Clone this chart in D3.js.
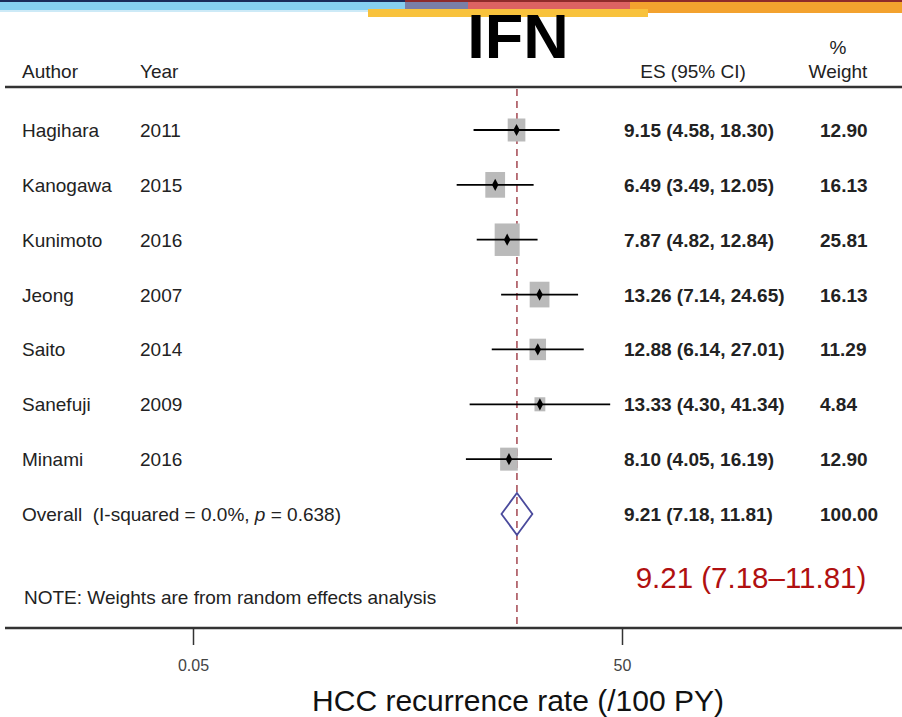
<!DOCTYPE html>
<html>
<head>
<meta charset="utf-8">
<script src="https://cdn.jsdelivr.net/npm/d3@7"></script>
<style>
  body { margin: 0; background: #fff; }
  svg text { font-family: "Liberation Sans", Arial, sans-serif; }
</style>
</head>
<body>
<div id="chart"></div>
<script>
/* study rows */
const authors = ["Hagihara", "Kanogawa", "Kunimoto", "Jeong", "Saito", "Sanefuji", "Minami"];
const years = ["2011", "2015", "2016", "2007", "2014", "2009", "2016"];
const es = [9.15, 6.49, 7.87, 13.26, 12.88, 13.33, 8.10];
const lower = [4.58, 3.49, 4.82, 7.14, 6.14, 4.30, 4.05];
const upper = [18.30, 12.05, 12.84, 24.65, 27.01, 41.34, 16.19];
const weights = [12.90, 16.13, 25.81, 16.13, 11.29, 4.84, 12.90];

/* pooled estimate */
const overallEs = 9.21;
const overallLower = 7.18;
const overallUpper = 11.81;
const overallWeight = 100.00;
const iSquared = "0.0%";
const pValue = "0.638";

/* axis */
const tickValues = [0.05, 50];
const axisTitle = "HCC recurrence rate (/100 PY)";
const chartTitle = "IFN";

const width = 902, height = 717;

const svg = d3.select("#chart").append("svg")
    .attr("width", width)
    .attr("height", height)
    .attr("viewBox", `0 0 ${width} ${height}`);

/* decorative header bands */
const bands = [
    {x0: 0, x1: 405, y: 0, h: 2, c: "#1b2a5a"},
    {x0: 405, x1: 902, y: 0, h: 2, c: "#8e2a2a"},
    {x0: 0, x1: 405, y: 2, h: 8, c: "#86cff0"},
    {x0: 0, x1: 405, y: 10, h: 2, c: "#cdeaf7"},
    {x0: 560, x1: 902, y: 2, h: 11, c: "#f3a22e"},
    {x0: 405, x1: 468, y: 2, h: 7, c: "#7a7fa6"},
    {x0: 468, x1: 630, y: 2, h: 7, c: "#dc6262"},
    {x0: 368, x1: 648, y: 9, h: 8, c: "#f8c23c"}
];
svg.append("g").selectAll("rect").data(bands).enter()
    .append("rect")
    .attr("x", d => d.x0)
    .attr("y", d => d.y)
    .attr("width", d => d.x1 - d.x0)
    .attr("height", d => d.h)
    .attr("fill", d => d.c);

/* scales */
const rows = authors.concat(["Overall"]);
const x = d3.scaleLog().domain([0.05, 50]).range([193, 622]);
const y = d3.scalePoint().domain(rows).range([130, 514]);
const boxW = d3.scaleSqrt().domain([0, d3.max(weights)]).range([0, 25]);

const studies = authors.map((a, i) => ({
    author: a, year: years[i], es: es[i], lo: lower[i], hi: upper[i], w: weights[i]
}));

const textCol = "#222";
const fs = 19;

/* title */
svg.append("text")
    .attr("x", 518).attr("y", 58)
    .attr("text-anchor", "middle")
    .attr("font-size", 63)
    .attr("font-weight", "bold")
    .attr("fill", "#000")
    .text(chartTitle);

/* column headers */
const head = svg.append("g").attr("fill", textCol).attr("font-size", fs);
head.append("text").attr("x", 22).attr("y", 78).text("Author");
head.append("text").attr("x", 140).attr("y", 78).text("Year");
head.append("text").attr("x", 693).attr("y", 78).attr("text-anchor", "middle").text("ES (95% CI)");
head.append("text").attr("x", 838).attr("y", 54).attr("text-anchor", "middle").text("%");
head.append("text").attr("x", 838).attr("y", 78).attr("text-anchor", "middle").text("Weight");

svg.append("line")
    .attr("x1", 5).attr("x2", width)
    .attr("y1", 87).attr("y2", 87)
    .attr("stroke", "#333").attr("stroke-width", 2.5);

/* reference line at pooled estimate */
svg.append("line")
    .attr("x1", x(overallEs)).attr("x2", x(overallEs))
    .attr("y1", 89).attr("y2", 627)
    .attr("stroke", "#a9525b")
    .attr("stroke-width", 1.6)
    .attr("stroke-dasharray", "7,5");

/* study rows */
const rowG = svg.append("g").selectAll("g").data(studies).enter()
    .append("g");

rowG.append("rect")
    .attr("x", d => x(d.es) - boxW(d.w) / 2)
    .attr("y", d => y(d.author) - boxW(d.w) * 1.3 / 2)
    .attr("width", d => boxW(d.w))
    .attr("height", d => boxW(d.w) * 1.3)
    .attr("fill", "#bababa");

rowG.append("line")
    .attr("x1", d => x(d.lo))
    .attr("x2", d => x(d.hi))
    .attr("y1", d => y(d.author))
    .attr("y2", d => y(d.author))
    .attr("stroke", "#000")
    .attr("stroke-width", 1.8);

rowG.append("path")
    .attr("d", d3.symbol().type(d3.symbolDiamond).size(30))
    .attr("transform", d => `translate(${x(d.es)},${y(d.author)}) scale(1.1,1.2)`)
    .attr("fill", "#000");

rowG.append("text")
    .attr("x", 22).attr("y", d => y(d.author) + 7)
    .attr("font-size", fs).attr("fill", textCol)
    .text(d => d.author);

rowG.append("text")
    .attr("x", 140).attr("y", d => y(d.author) + 7)
    .attr("font-size", fs).attr("fill", textCol)
    .text(d => d.year);

rowG.append("text")
    .attr("x", 624).attr("y", d => y(d.author) + 7)
    .attr("font-size", fs).attr("font-weight", "bold").attr("fill", textCol)
    .text(d => `${d.es.toFixed(2)} (${d.lo.toFixed(2)}, ${d.hi.toFixed(2)})`);

rowG.append("text")
    .attr("x", 820).attr("y", d => y(d.author) + 7)
    .attr("font-size", fs).attr("font-weight", "bold").attr("fill", textCol)
    .text(d => d.w.toFixed(2));

/* overall row */
const yo = y("Overall");
svg.append("path")
    .attr("d", `M${x(overallLower)},${yo} L${x(overallEs)},${yo - 21} L${x(overallUpper)},${yo} L${x(overallEs)},${yo + 21} Z`)
    .attr("fill", "none")
    .attr("stroke", "#4a4a9c")
    .attr("stroke-width", 1.8);

const ov = svg.append("text")
    .attr("x", 22).attr("y", yo + 7)
    .attr("font-size", fs).attr("fill", textCol)
    .style("white-space", "pre");
ov.append("tspan").text("Overall  (I-squared = " + iSquared + ", ");
ov.append("tspan").attr("font-style", "italic").text("p");
ov.append("tspan").text(" = " + pValue + ")");

svg.append("text")
    .attr("x", 624).attr("y", yo + 7)
    .attr("font-size", fs).attr("font-weight", "bold").attr("fill", textCol)
    .text(`${overallEs.toFixed(2)} (${overallLower.toFixed(2)}, ${overallUpper.toFixed(2)})`);

svg.append("text")
    .attr("x", 820).attr("y", yo + 7)
    .attr("font-size", fs).attr("font-weight", "bold").attr("fill", textCol)
    .text(overallWeight.toFixed(2));

/* red annotation */
svg.append("text")
    .attr("x", 751).attr("y", 588)
    .attr("text-anchor", "middle")
    .attr("font-size", 29.5)
    .attr("fill", "#b01010")
    .text(`${overallEs.toFixed(2)} (${overallLower.toFixed(2)}\u2013${overallUpper.toFixed(2)})`);

svg.append("text")
    .attr("x", 24).attr("y", 604)
    .attr("font-size", 19).attr("fill", textCol)
    .text("NOTE: Weights are from random effects analysis");

/* x axis */
svg.append("line")
    .attr("x1", 5).attr("x2", width)
    .attr("y1", 628).attr("y2", 628)
    .attr("stroke", "#333").attr("stroke-width", 2.5);

const xAxis = d3.axisBottom(x)
    .tickValues(tickValues)
    .tickSize(17)
    .tickPadding(15)
    .tickFormat(d => d);
const xAxisG = svg.append("g")
    .attr("transform", "translate(0,628)")
    .call(xAxis);
xAxisG.select(".domain").remove();
xAxisG.selectAll(".tick line").attr("stroke", "#333").attr("stroke-width", 1.5);
xAxisG.selectAll(".tick text")
    .attr("font-size", 16)
    .attr("font-family", "Liberation Sans, Arial, sans-serif")
    .attr("fill", "#444");

svg.append("text")
    .attr("x", 518).attr("y", 711)
    .attr("text-anchor", "middle")
    .attr("font-size", 30)
    .attr("fill", "#111")
    .text(axisTitle);
</script>
</body>
</html>
